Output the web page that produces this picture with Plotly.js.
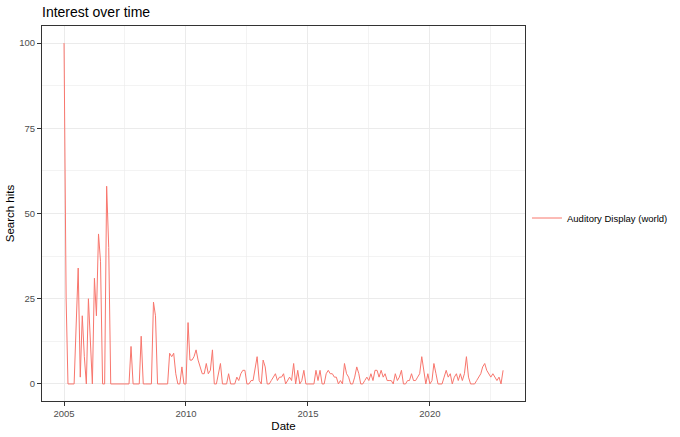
<!DOCTYPE html>
<html>
<head>
<meta charset="utf-8">
<script src="https://cdn.plot.ly/plotly-3.0.1.min.js"></script>
<style>
  html, body { margin: 0; padding: 0; background: #fff; }
  #chart { width: 680px; height: 437px; }
</style>
</head>
<body>
<div id="chart"></div>
<script>
// Monthly Google Trends search hits, "Auditory Display" (world), Jan 2005 – Jan 2023
const seriesName = "Auditory Display (world)";
const startYear = 2005;
const hits2005 = [100, 25, 0, 0, 0, 0, 17, 34, 2, 20, 8, 0];
const hits2006 = [25, 10, 0, 31, 20, 44, 36, 0, 0, 58, 40, 0];
const hits2007 = [0, 0, 0, 0, 0, 0, 0, 0, 0, 11, 0, 0];
const hits2008 = [0, 0, 14, 0, 0, 0, 0, 0, 24, 20, 0, 0];
const hits2009 = [0, 0, 0, 0, 9, 8, 9, 3, 0, 0, 5, 0];
const hits2010 = [0, 18, 7, 7, 8, 10, 7, 5, 3, 3, 6, 3];
const hits2011 = [4, 10, 0, 0, 3, 6, 0, 0, 0, 3, 0, 0];
const hits2012 = [0, 2, 1, 3, 4, 4, 0, 0, 1, 1, 4, 8];
const hits2013 = [1, 0, 7, 5, 0, 0, 1, 2, 3, 1, 2, 2];
const hits2014 = [3, 0, 1, 2, 1, 6, 0, 4, 0, 1, 4, 0];
const hits2015 = [0, 0, 0, 0, 4, 1, 4, 0, 0, 3, 4, 3];
const hits2016 = [3, 2, 2, 0, 1, 0, 6, 3, 2, 0, 0, 2];
const hits2017 = [5, 3, 0, 0, 1, 2, 1, 3, 1, 4, 4, 2];
const hits2018 = [4, 2, 3, 1, 1, 1, 0, 3, 1, 2, 4, 0];
const hits2019 = [0, 1, 1, 3, 1, 1, 2, 3, 8, 4, 0, 3];
const hits2020 = [0, 1, 6, 3, 0, 0, 0, 2, 4, 2, 3, 0];
const hits2021 = [2, 3, 1, 3, 1, 3, 8, 2, 0, 0, 0, 1];
const hits2022 = [2, 3, 5, 6, 4, 3, 2, 3, 2, 1, 2, 0];
const hits2023 = [4];

const yearly = [hits2005, hits2006, hits2007, hits2008, hits2009, hits2010, hits2011,
  hits2012, hits2013, hits2014, hits2015, hits2016, hits2017, hits2018, hits2019,
  hits2020, hits2021, hits2022, hits2023];

const yTickVals = [0, 25, 50, 75, 100];
const yMinorVals = [12.5, 37.5, 62.5, 87.5];
const xMinorVals = ["2007-07-01", "2012-07-01", "2017-07-01", "2022-07-01"];

const dates = [];
const hits = [];
yearly.forEach((arr, i) => {
  arr.forEach((v, m) => {
    dates.push((startYear + i) + "-" + String(m + 1).padStart(2, "0") + "-01");
    hits.push(v);
  });
});

const trace = {
  x: dates, y: hits, type: "scatter", mode: "lines", name: seriesName,
  line: { color: "#F8766D", width: 1 }, showlegend: true
};

const grid = "#EBEBEB";
const layout = {
  width: 680, height: 437,
  margin: { l: 42, r: 155, t: 26, b: 36, pad: 0, autoexpand: false },
  paper_bgcolor: "#fff", plot_bgcolor: "#fff",
  font: { family: "Liberation Sans, Arial, sans-serif", color: "#4D4D4D", size: 9.5 },
  title: {
    text: "Interest over time", font: { size: 14, color: "#000" },
    x: 0, xref: "paper", xanchor: "left",
    y: 1 - 12 / 437, yref: "container", yanchor: "middle"
  },
  xaxis: {
    type: "date", range: ["2004-02-06", "2023-11-25"],
    tickmode: "linear", tick0: "2005-01-01", dtick: "M60", tickformat: "%Y",
    ticks: "outside", ticklen: 4, tickcolor: "#333333", tickwidth: 1,
    tickfont: { size: 9.5, color: "#4D4D4D" },
    showgrid: true, gridcolor: grid, gridwidth: 1,
    minor: { tickmode: "array", tickvals: xMinorVals, showgrid: true, gridcolor: grid, gridwidth: 0.6, ticks: "" },
    showline: true, mirror: true, linecolor: "#333333", linewidth: 1,
    zeroline: false, automargin: false,
    title: { text: "Date", font: { size: 11.5, color: "#000" }, standoff: 3 }
  },
  yaxis: {
    range: [-5, 105], tickmode: "array", tickvals: yTickVals,
    ticks: "outside", ticklen: 4, tickcolor: "#333333", tickwidth: 1,
    tickfont: { size: 9.5, color: "#4D4D4D" },
    showgrid: true, gridcolor: grid, gridwidth: 1,
    minor: { tickmode: "array", tickvals: yMinorVals, showgrid: true, gridcolor: grid, gridwidth: 0.6, ticks: "" },
    showline: true, mirror: true, linecolor: "#333333", linewidth: 1,
    zeroline: false, automargin: false,
    title: { text: "Search hits", font: { size: 11.5, color: "#000" }, standoff: 2 }
  },
  legend: {
    x: 1.0041, xref: "paper", xanchor: "left", y: 0.488, yanchor: "middle",
    font: { size: 9.5, color: "#000" }, bgcolor: "rgba(0,0,0,0)"
  },
  showlegend: true
};

Plotly.newPlot("chart", [trace], layout, { staticPlot: true, displayModeBar: false });
</script>
</body>
</html>
